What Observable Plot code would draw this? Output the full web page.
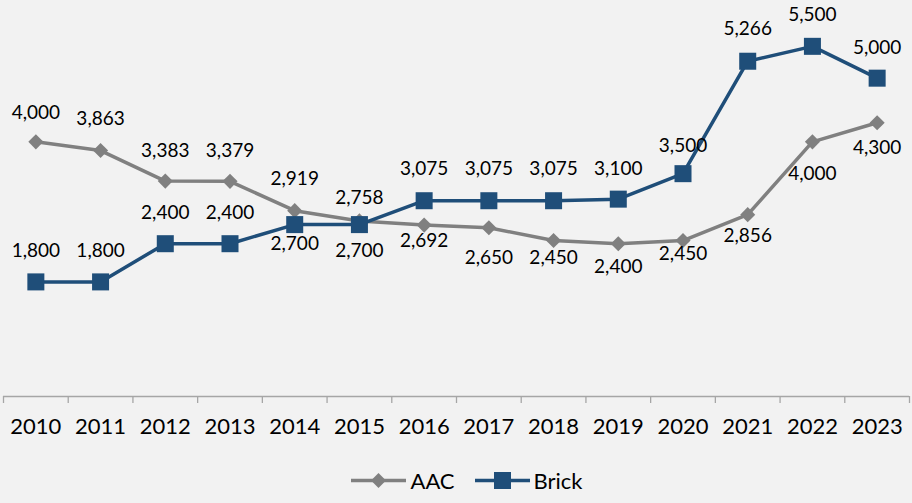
<!DOCTYPE html>
<html><head><meta charset="utf-8">
<script src="https://cdn.jsdelivr.net/npm/d3@7"></script>
<script src="https://cdn.jsdelivr.net/npm/@observablehq/plot@0.6"></script>
<style>
html,body{margin:0;padding:0;background:#f2f2f2;}
#chart{width:912px;height:503px;background:#f2f2f2;font-family:Lato,sans-serif;}
#legend{display:flex;justify-content:center;align-items:center;height:45px;font-family:Lato,sans-serif;font-size:22px;color:#000;padding-left:22px;box-sizing:border-box;}
.item{display:flex;align-items:center;margin:0 10px;}
.item svg{margin-right:4px;}
</style></head>
<body><div id="chart"></div>
<script>
const years = [2010,2011,2012,2013,2014,2015,2016,2017,2018,2019,2020,2021,2022,2023];
const aac   = [4000,3863,3383,3379,2919,2758,2692,2650,2450,2400,2450,2856,4000,4300];
const brick = [1800,1800,2400,2400,2700,2700,3075,3075,3075,3100,3500,5266,5500,5000];
// label nudges (pixels, negative = above)
const aacLabelDy   = [-29,-32,-30,-30,-32,-23,16,30,17,23,13,21,32,25];
const brickLabelDy = [-31,-31,-31,-31,19,26,-32,-32,-32,-30,-28,-32,-31,-30];
const seriesNames = ["AAC","Brick"];
const colors = {AAC:"#808080", Brick:"#1f4e79"};

const rows = [];
years.forEach((yr,i)=>{
  rows.push({year:yr, series:"AAC", value:aac[i], dy:aacLabelDy[i]});
  rows.push({year:yr, series:"Brick", value:brick[i], dy:brickLabelDy[i]});
});
const aacRows = rows.filter(d=>d.series==="AAC");
const brickRows = rows.filter(d=>d.series==="Brick");
const bounds = years.map(y=>y-0.5).concat([years[years.length-1]+0.5]);
const fmt = d3.format(",");

const labelMarks = rows.map(d => Plot.text([d], {x:"year", y:"value", text:d=>fmt(d.value), dy:d.dy, fontSize:19, fill:"#000"}));

const plot = Plot.plot({
  width:912, height:458,
  marginTop:14, marginBottom:62, marginLeft:3, marginRight:3,
  style:{background:"#f2f2f2", fontFamily:"Lato, sans-serif"},
  x:{domain:[years[0]-0.5, years[years.length-1]+0.5], axis:null},
  y:{domain:[0,6000], axis:null},
  marks:[
    Plot.ruleY([0], {stroke:"#a6a6a6", strokeWidth:1.3}),
    Plot.ruleX(bounds, {x:d=>d, y1:0, y2:0, insetBottom:-7, stroke:"#a6a6a6", strokeWidth:1.3}),
    Plot.axisX({ticks:years, tickSize:0, tickPadding:22, tickFormat:d=>String(d), fontSize:22, fill:"#000", color:"#000", label:null}),
    Plot.line(aacRows, {x:"year", y:"value", stroke:colors.AAC, strokeWidth:3.5}),
    Plot.line(brickRows, {x:"year", y:"value", stroke:colors.Brick, strokeWidth:3.5}),
    Plot.dot(aacRows, {x:"year", y:"value", symbol:"diamond2", r:6.8, fill:colors.AAC, stroke:"none"}),
    Plot.dot(brickRows, {x:"year", y:"value", symbol:"square", r:9.6, fill:colors.Brick, stroke:"none"}),
    ...labelMarks
  ]
});
document.getElementById("chart").appendChild(plot);

const legend = document.createElement("div");
legend.id = "legend";
seriesNames.forEach(name=>{
  const it = document.createElement("div"); it.className="item";
  const c = colors[name];
  const marker = name==="AAC"
    ? `<path d="M27.5 20 L35 27.5 L27.5 35 L20 27.5 Z" fill="${c}"/>`
    : `<rect x="19" y="19" width="17" height="17" fill="${c}"/>`;
  it.innerHTML = `<svg width="55" height="55" viewBox="0 0 55 55"><line x1="0" x2="55" y1="27.5" y2="27.5" stroke="${c}" stroke-width="3.5"/>${marker}</svg><span>${name}</span>`;
  legend.appendChild(it);
});
document.getElementById("chart").appendChild(legend);
</script></body></html>
